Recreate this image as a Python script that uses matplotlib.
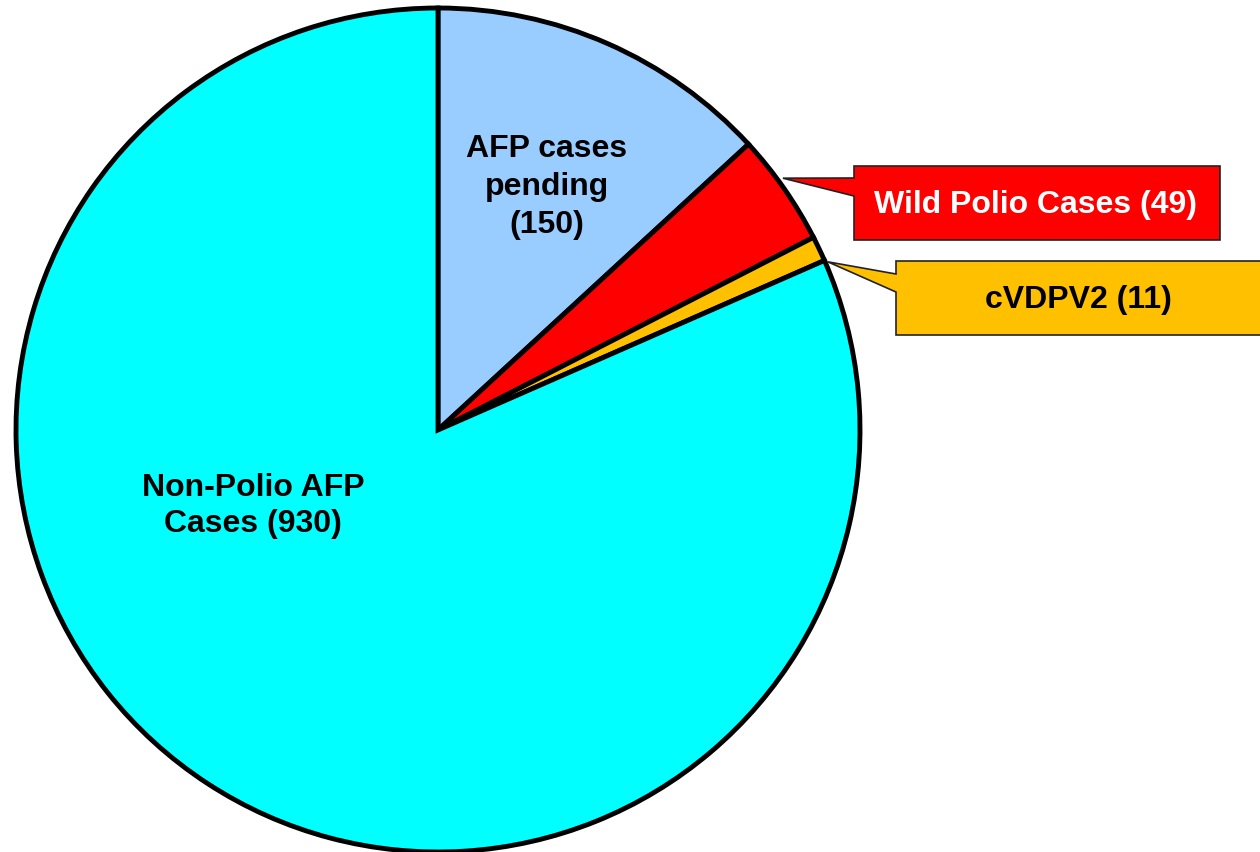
import matplotlib
matplotlib.use("Agg")
import matplotlib.pyplot as plt
import numpy as np
from matplotlib.patches import Polygon

categories = ["AFP cases\npending\n(150)", "Wild Polio Cases (49)", "cVDPV2 (11)", "Non-Polio AFP\nCases (930)"]
values = [150, 49, 11, 930]
colors = ["#99CCFF", "#FF0000", "#FFC000", "#00FFFF"]

W, H = 1260, 853
fig = plt.figure(figsize=(W / 100, H / 100), dpi=100)
ax = fig.add_axes([0, 0, 1, 1])

cx, cy, R = 438, H - 431, 422
wedges, _ = ax.pie(values, colors=colors, startangle=90, counterclock=False,
                   center=(cx, cy), radius=R, frame=True,
                   wedgeprops=dict(edgecolor="black", linewidth=3.5))
ax.set_xlim(0, W)
ax.set_ylim(0, H)
ax.set_aspect("equal")
ax.axis("off")

font = dict(family=["Liberation Sans", "DejaVu Sans"], fontweight="bold")
FS = 23

# inside labels
ax.text(547, H - 187, categories[0], ha="center", va="center", fontsize=FS,
        linespacing=1.36, color="black", **font)
ax.text(253, H - 506, categories[3], ha="center", va="center", fontsize=FS,
        linespacing=1.26, color="black", **font)


def tip(w, frac, r):
    a = np.deg2rad(w.theta1 + frac * (w.theta2 - w.theta1))
    return (cx + R * r * np.cos(a), cy + R * r * np.sin(a))


def callout(w, frac, r, box, base, color, label, tcolor, tx):
    x0, y0, x1, y1 = box
    b0, b1 = base
    tx_, ty_ = tip(w, frac, r)
    pts = [(x0, H - y0), (x1, H - y0), (x1, H - y1), (x0, H - y1),
           (x0, H - b1), (tx_, ty_), (x0, H - b0)]
    ax.add_patch(Polygon(pts, closed=True, facecolor=color, edgecolor="#222222",
                         linewidth=1.2, zorder=5, clip_on=False))
    ax.text(tx, H - (y0 + y1) / 2 - 1, label, ha="center", va="center", fontsize=FS,
            color=tcolor, zorder=6, **font)


callout(wedges[1], 0.58, 1.012, (854, 167, 1220, 241), (179, 197), colors[1], categories[1], "white", 1036)
callout(wedges[2], -0.1, 1.006, (896, 262, 1275, 336), (275, 293), colors[2], categories[2], "black", 1078)

fig.savefig("out.png", dpi=100)
